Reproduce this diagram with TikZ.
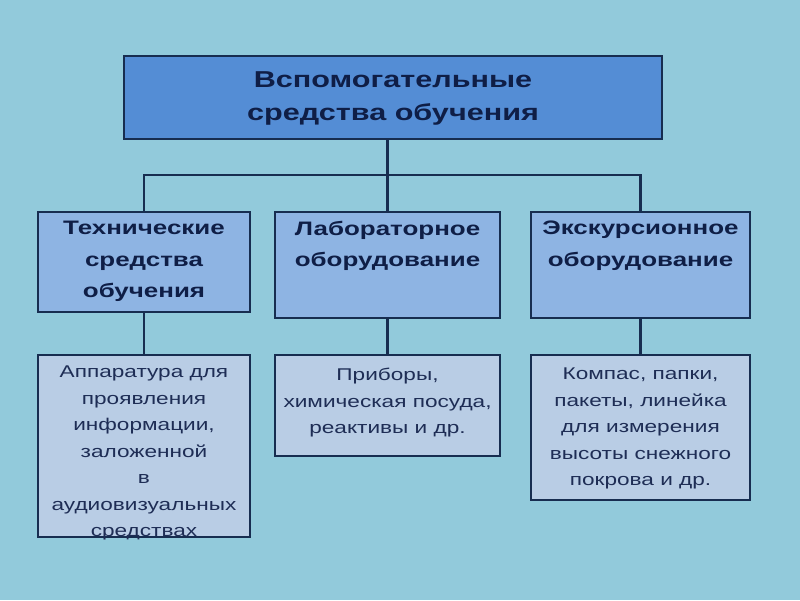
\documentclass[tikz,border=0pt]{standalone}
\usepackage{fontspec}
\setmainfont[FakeStretch=1.33]{Liberation Sans}
\definecolor{bg}{RGB}{146,202,219}
\definecolor{topfill}{RGB}{84,141,213}
\definecolor{midfill}{RGB}{142,180,227}
\definecolor{lowfill}{RGB}{185,205,229}
\definecolor{navy}{RGB}{23,45,80}
\definecolor{ink}{RGB}{15,30,70}
\definecolor{ink2}{RGB}{30,45,85}
\tikzset{
  box/.style={draw=navy, line width=2.2pt, rectangle, inner sep=0pt},
  topbox/.style={box, fill=topfill, minimum width=538pt, minimum height=83pt},
  midbox/.style={box, fill=midfill},
  lowbox/.style={box, fill=lowfill},
  toptext/.style={anchor=north, align=center, text=ink, inner sep=0pt, font=\fontsize{23}{33}\selectfont\bfseries},
  midtext/.style={anchor=north, align=center, text=ink, inner sep=0pt, font=\fontsize{19.5}{31.5}\selectfont\bfseries},
  lowtext/.style={anchor=north, align=center, text=ink2, inner sep=0pt, font=\fontsize{17}{26.5}\selectfont},
  link/.style={draw=navy, line width=2.2pt}
}
\begin{document}
\begin{tikzpicture}[x=1pt,y=-1pt]
\fill[bg] (0,0) rectangle (800,600);
\useasboundingbox (0,0) rectangle (800,600);
% boxes
\node[topbox] (top) at (393,97.5) {};
\node[midbox, minimum width=212pt, minimum height=100pt] (m1) at (144,262) {};
\node[midbox, minimum width=225pt, minimum height=106pt] (m2) at (387.5,265) {};
\node[midbox, minimum width=219pt, minimum height=106pt] (m3) at (640.5,265) {};
\node[lowbox, minimum width=212pt, minimum height=182pt] (l1) at (144,446) {};
\node[lowbox, minimum width=225pt, minimum height=101pt] (l2) at (387.5,405.5) {};
\node[lowbox, minimum width=219pt, minimum height=145pt] (l3) at (640.5,427.5) {};
% connectors
\coordinate (bus) at (387.5,175);
\draw[link] (top.south -| m2.north) -- (m2.north);
\draw[link] (m1.north) |- (bus) -| (m3.north);
\draw[link] (m1.south) -- (l1.north);
\draw[link] (m2.south) -- (l2.north);
\draw[link] (m3.south) -- (l3.north);
% texts
\node[toptext] (ttop) at ([yshift=-16.5pt]top.north) {Вспомогательные\\средства обучения};
\node[midtext] (tm1) at ([yshift=-10pt]m1.north) {Технические\\средства\\обучения};
\node[midtext] (tm2) at ([yshift=-10pt]m2.north) {Лабораторное\\оборудование};
\node[midtext] (tm3) at ([yshift=-10pt]m3.north) {Экскурсионное\\оборудование};
\node[lowtext] (tl1) at ([yshift=-12pt]l1.north) {Аппаратура для\\проявления\\информации,\\заложенной\\в\\аудиовизуальных\\средствах};
\node[lowtext] (tl2) at ([yshift=-14pt]l2.north) {Приборы,\\химическая посуда,\\реактивы и др.};
\node[lowtext] (tl3) at ([yshift=-14pt]l3.north) {Компас, папки,\\пакеты, линейка\\для измерения\\высоты снежного\\покрова и др.};
\end{tikzpicture}
\end{document}
